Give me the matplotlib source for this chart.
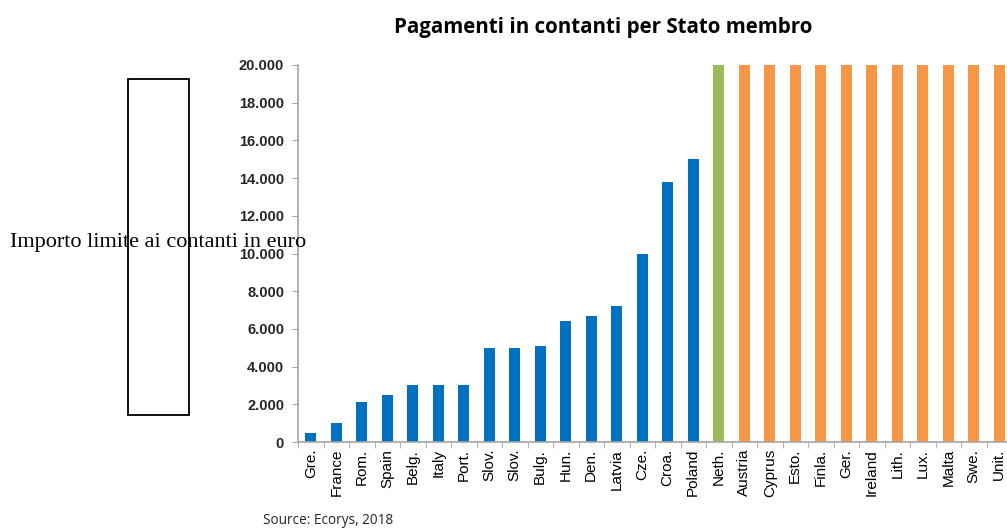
import matplotlib.pyplot as plt
from matplotlib.patches import Rectangle
from matplotlib.ticker import FuncFormatter

countries = ["Gre.", "France", "Rom.", "Spain", "Belg.", "Italy", "Port.",
             "Slov.", "Slov.", "Bulg.", "Hun.", "Den.", "Latvia", "Cze.",
             "Croa.", "Poland", "Neth.", "Austria", "Cyprus", "Esto.",
             "Finla.", "Ger.", "Ireland", "Lith.", "Lux.", "Malta", "Swe.",
             "Unit."]
limits = [500, 1000, 2100, 2500, 3000, 3000, 3000,
          5000, 5000, 5100, 6400, 6700, 7200, 10000,
          13800, 15000, 20000, 20000, 20000, 20000,
          20000, 20000, 20000, 20000, 20000, 20000, 20000,
          20000]
# 0 = limite, 1 = Paesi Bassi, 2 = nessun limite
groups = [0] * 16 + [1] + [2] * 11

palette = {0: "#0070C0", 1: "#9BBB59", 2: "#F79646"}
colors = [palette[g] for g in groups]

fig = plt.figure(figsize=(10.07, 5.28), dpi=100)
ax = fig.add_axes([298 / 1007, 1 - 442 / 528, 714 / 1007, 377 / 528])

x = list(range(len(countries)))
ax.bar(x, limits, width=0.42, color=colors, zorder=2)

ax.set_xlim(-0.5, len(countries) - 0.5)
ax.set_ylim(0, 20000)
ax.set_yticks(range(0, 20001, 2000))
ax.yaxis.set_major_formatter(FuncFormatter(lambda v, p: f"{int(v):,}".replace(",", ".")))

ax.set_xticks(x)
ax.set_xticklabels(countries, rotation=90, fontsize=11, family="Liberation Sans")
ax.set_xticks([i - 0.5 for i in range(len(countries) + 1)], minor=True)
ax.tick_params(axis="x", which="major", length=0, pad=5)
ax.tick_params(axis="x", which="minor", length=4, color="#A6A6A6")
ax.tick_params(axis="y", length=4, color="#A6A6A6", labelsize=10.5, pad=6)
for lab in ax.get_yticklabels():
    lab.set_family("Liberation Sans")
    lab.set_fontweight("bold")
    lab.set_color("#262626")

for s in ["top", "right"]:
    ax.spines[s].set_visible(False)
for s in ["left", "bottom"]:
    ax.spines[s].set_color("#A6A6A6")
    ax.spines[s].set_linewidth(1.2)

fig.text(603 / 1007, 1 - 28 / 528, "Pagamenti in contanti per Stato membro",
         ha="center", va="center", fontsize=14.8, fontweight="bold", family="Open Sans")
fig.text(263 / 1007, 1 - 521 / 528, "Source: Ecorys, 2018",
         ha="left", va="center", fontsize=9.8, family="Open Sans", color="#262626")

# riquadro e etichetta asse y
fig.patches.append(Rectangle((128 / 1007, 1 - 415 / 528), 61 / 1007, 336 / 528,
                             transform=fig.transFigure, fill=False,
                             edgecolor="black", linewidth=1.3))
fig.text(10 / 1007, 1 - 243 / 528, "Importo limite ai contanti in euro",
         ha="left", va="center", fontsize=16, family="Liberation Serif")

plt.savefig("out.png", dpi=100)
